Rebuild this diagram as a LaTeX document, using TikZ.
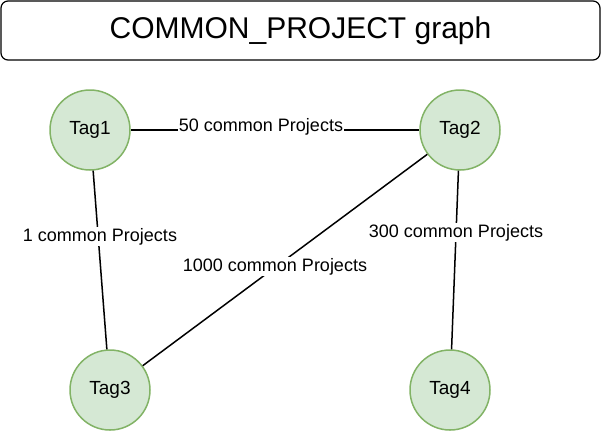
\documentclass[tikz,border=0pt]{standalone}
\usepackage{fontspec}
\setmainfont{Liberation Sans}
\begin{document}
\begin{tikzpicture}[x=1pt,y=-1pt,
  tagnode/.style={circle,draw=tagline,fill=tagfill,line width=1.5pt,minimum size=80pt,inner sep=0pt,font=\fontsize{19}{21}\selectfont},
  edgelabel/.style={fill=white,inner sep=1pt,font=\fontsize{18}{20}\selectfont},
  link/.style={line width=1.5pt,draw=black}]
\definecolor{tagline}{HTML}{82B366}
\definecolor{tagfill}{HTML}{D5E8D4}
\useasboundingbox (0,0) rectangle (601,432);
\node[draw=black,line width=1.2pt,rounded corners=7pt,minimum width=599pt,minimum height=59pt,inner sep=0pt,font=\fontsize{30}{34}\selectfont] (title) at (300.5,30.5) {COMMON\_PROJECT graph};
\node[tagnode] (t1) at (90,130) {Tag1};
\node[tagnode] (t2) at (460,130) {Tag2};
\node[tagnode] (t3) at (110,390) {Tag3};
\node[tagnode] (t4) at (450,390) {Tag4};
\draw[link] (t1) -- (t2);
\draw[link] (t1) -- (t3);
\draw[link] (t2) -- (t3);
\draw[link] (t2) -- (t4);
\node[edgelabel] (l12) at (261,127) {50 common Projects};
\node[edgelabel] (l13) at (100,236.5) {1 common Projects};
\node[edgelabel] (l23) at (275,266.5) {1000 common Projects};
\node[edgelabel] (l24) at (456,232.5) {300 common Projects};
\end{tikzpicture}
\end{document}
